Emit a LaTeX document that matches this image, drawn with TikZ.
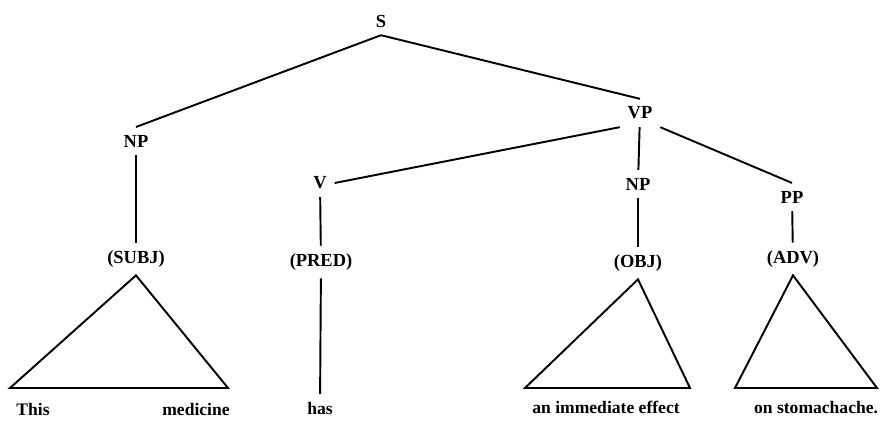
\documentclass[tikz,border=0pt]{standalone}
\usepackage{fontspec}
\setmainfont{Liberation Serif}
\usetikzlibrary{calc}

\begin{document}
\begin{tikzpicture}[x=0.02cm,y=-0.02cm,inner sep=4pt,line width=1.1pt,font=\bfseries\fontsize{10.5}{12}\selectfont,
  word/.style={inner sep=0pt,anchor=base,font=\bfseries\fontsize{10}{12}\selectfont}]
\useasboundingbox (0,0) rectangle (882,423);
\draw node (S)    at (381,21)  {S};
\draw node (NP1)  at (136,141) {NP};
\draw node (VP)   at (640,113) {VP};
\draw node (V)    at (320,183) {V};
\draw node (NP2)  at (638,184) {NP};
\draw node (PP)   at (792,197) {PP};
\draw node (SUBJ) at (136,259) {(SUBJ)};
\draw node (PRED) at (321,262) {(PRED)};
\draw node (OBJ)  at (638,263) {(OBJ)};
\draw node (ADV)  at (793,259) {(ADV)};
\draw node [word] (w1) at (33,415)  {This};
\draw node [word] (w2) at (196,415) {medicine};
\draw node [word,inner sep=4pt] (w3) at (320,414) {has};
\draw node [word] (w4) at (606,413) {an immediate effect};
\draw node [word,anchor=base east] (w5) at (879,413) {on stomachache.};
% triangle corners
\coordinate (T1l) at (10,388);  \coordinate (T1r) at (228,388);
\coordinate (T2l) at (525,388); \coordinate (T2r) at (690,388);
\coordinate (T3l) at (735,388); \coordinate (T3r) at (877,388);
\draw (S.south) -- (NP1.north);
\draw (S.south) -- (VP.north);
\draw (NP1) -- (SUBJ);
\draw (VP.south west) -- (V.east);
\draw (VP) -- (NP2);
\draw (VP.south east) -- (PP.north);
\draw (V) -- (PRED);
\draw (PRED) -- (w3);
\draw (NP2) -- (OBJ);
\draw (PP) -- (ADV);
\draw [line join=miter] (SUBJ.south) -- (T1l) -- (T1r) -- cycle;
\draw [line join=miter] (OBJ.south) -- (T2l) -- (T2r) -- cycle;
\draw [line join=miter] (ADV.south) -- (T3l) -- (T3r) -- cycle;
\end{tikzpicture}
\end{document}
